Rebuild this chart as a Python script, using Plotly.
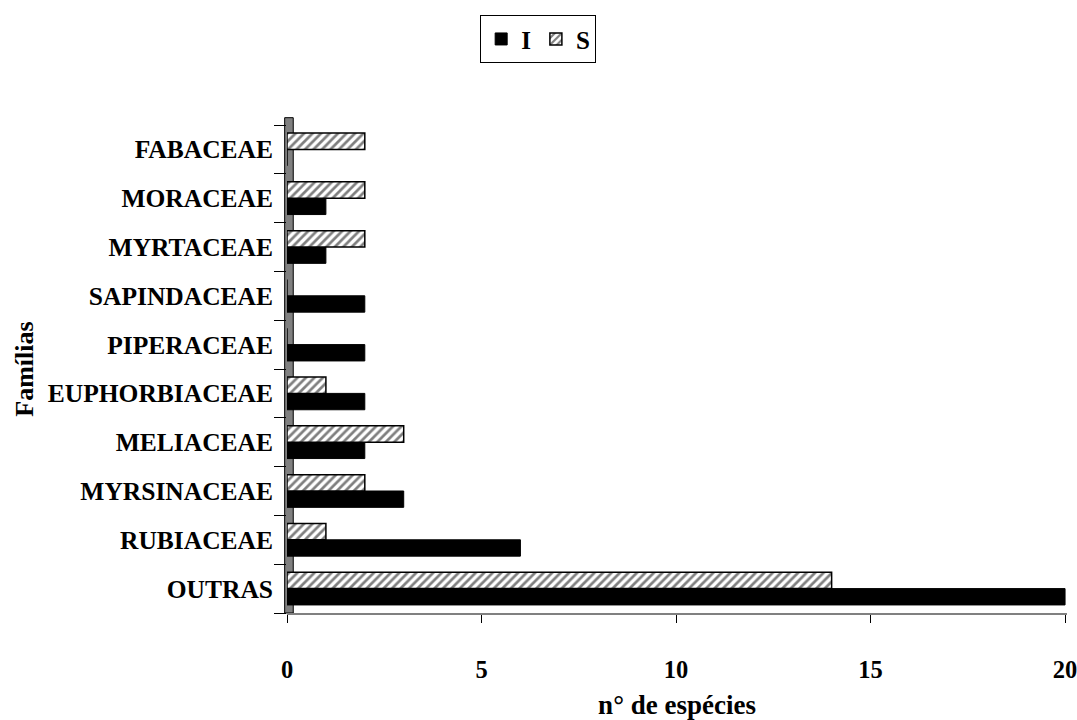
import plotly.graph_objects as go

categories = ["OUTRAS", "RUBIACEAE", "MYRSINACEAE", "MELIACEAE", "EUPHORBIACEAE",
              "PIPERACEAE", "SAPINDACEAE", "MYRTACEAE", "MORACEAE", "FABACEAE"]
values_I = [20, 6, 3, 2, 2, 2, 2, 1, 1, 0]
values_S = [14, 1, 2, 3, 1, 0, 0, 2, 2, 2]
x_ticks = [0, 5, 10, 15, 20]

FONT = "Liberation Serif"

fig = go.Figure()
fig.add_trace(go.Bar(
    y=categories, x=values_I, name="I", orientation="h",
    marker=dict(color="black", line=dict(color="black", width=1)),
))
fig.add_trace(go.Bar(
    y=categories, x=values_S, name="S", orientation="h",
    marker=dict(color="white", line=dict(color="black", width=1.5),
                pattern=dict(shape="/", fgcolor="black", bgcolor="white",
                             size=6, solidity=0.45)),
))

# gray 3D-like wall on the left side of plot
fig.add_shape(type="rect", xref="paper", yref="paper",
              x0=-0.003, x1=0.008, y0=0.0, y1=1.015,
              fillcolor="#808080", line=dict(color="black", width=1), layer="below")

fig.update_layout(
    width=1077, height=720,
    paper_bgcolor="white", plot_bgcolor="white",
    margin=dict(l=287, r=10, t=125, b=107, autoexpand=False),
    barmode="group", bargap=0.33, bargroupgap=0.0,
    font=dict(family=FONT, size=24, color="black"),
    showlegend=True,
    legend=dict(orientation="h", x=0.322, xanchor="center", y=1.225, yanchor="top",
                bordercolor="black", borderwidth=1, bgcolor="white",
                font=dict(family=FONT, size=25, color="black", weight="bold"),
                traceorder="normal", itemwidth=30),
    xaxis=dict(range=[0, 20.05], tickvals=x_ticks, ticktext=[str(v) for v in x_ticks],
               automargin=False,
               showgrid=False, zeroline=False, showline=True, linecolor="#808080",
               linewidth=2, ticks="outside", ticklen=8, tickcolor="black",
               ticklabelstandoff=26, ticklabeloverflow="allow",
               tickfont=dict(family=FONT, size=24.5, weight="bold"),
               title=dict(text="n° de espécies", font=dict(family=FONT, size=27, weight="bold"),
                          standoff=15)),
    yaxis=dict(categoryorder="array", categoryarray=categories,
               automargin=False,
               showgrid=False, zeroline=False, showline=False,
               ticks="outside", tickson="boundaries", ticklen=12, tickcolor="black",
               ticklabelstandoff=13,
               tickfont=dict(family=FONT, size=25.5, weight="bold"),
               title=dict(text="Famílias", font=dict(family=FONT, size=26, weight="bold"),
                          standoff=6)),
)

fig.write_html("out.html")
